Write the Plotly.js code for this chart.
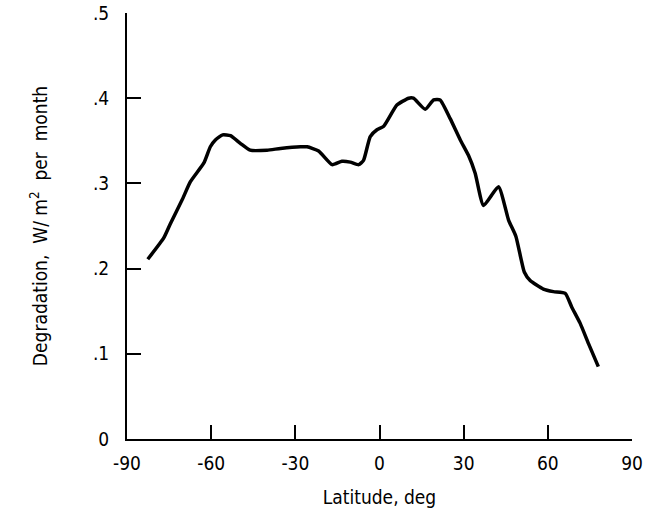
<!DOCTYPE html>
<html>
<head>
<meta charset="utf-8">
<script src="https://cdn.plot.ly/plotly-3.0.1.min.js"></script>
<style>html,body{margin:0;padding:0;background:#fff;}#chart{width:654px;height:520px;}</style>
</head>
<body>
<div id="chart"></div>
<script>
const latitude = [-82.6, -76.9, -74.5, -70.3, -67.4, -62.6, -60.3, -58.5, -55.9, -53.1, -49.6, -46.1, -40.1, -35.3, -28.2, -25.8, -21.7, -16.9, -13.4, -10.4, -7.4, -5.7, -3.3, -0.9, 1.5, 6.2, 10.4, 12.1, 16.3, 19.3, 21.6, 25.2, 28.8, 31.7, 34.1, 37.1, 42.4, 46.0, 48.6, 50.4, 51.6, 53.7, 58.4, 62.0, 66.2, 68.5, 71.5, 74.5, 78.0];
const degradation = [0.211, 0.236, 0.253, 0.281, 0.302, 0.324, 0.343, 0.351, 0.357, 0.356, 0.347, 0.339, 0.339, 0.341, 0.343, 0.343, 0.338, 0.322, 0.326, 0.325, 0.322, 0.327, 0.355, 0.363, 0.367, 0.392, 0.400, 0.400, 0.387, 0.398, 0.398, 0.376, 0.351, 0.333, 0.312, 0.274, 0.296, 0.257, 0.238, 0.212, 0.196, 0.186, 0.176, 0.173, 0.171, 0.155, 0.136, 0.112, 0.085];

const xTickVals = [-90, -60, -30, 0, 30, 60, 90];
const xTickText = ["-90", "-60", "-30", "0", "30", "60", "90"];
const yTickVals = [0, 0.1, 0.2, 0.3, 0.4, 0.5];
const yTickText = ["0", ".1", ".2", ".3", ".4", ".5"];

const fontFam = "Liberation Sans Narrow, DejaVu Sans Condensed, Arial Narrow, sans-serif";

const trace = {
  x: latitude, y: degradation, type: 'scatter', mode: 'lines',
  line: {color: '#000', width: 3.5, shape: 'spline', smoothing: 0.5},
  hoverinfo: 'skip'
};

const layout = {
  width: 654, height: 520,
  margin: {l: 126.5, r: 22, t: 13, b: 81},
  paper_bgcolor: '#fff', plot_bgcolor: '#fff',
  showlegend: false,
  font: {family: fontFam, color: '#000', size: 19},
  xaxis: {
    range: [-90, 90], tickmode: 'array', tickvals: xTickVals, ticktext: xTickText,
    ticks: 'inside', ticklen: 14, tickwidth: 2, tickcolor: '#000',
    showline: true, linecolor: '#000', linewidth: 2, showgrid: false, zeroline: false,
    ticklabelstandoff: 6,
    tickfont: {family: fontFam, size: 19, color: '#000'},
    title: {text: 'Latitude, deg', font: {family: fontFam, size: 19, color: '#000'}, standoff: 18},
    automargin: false, fixedrange: true
  },
  yaxis: {
    range: [0, 0.5], tickmode: 'array', tickvals: yTickVals, ticktext: yTickText,
    ticks: 'inside', ticklen: 14, tickwidth: 2, tickcolor: '#000',
    showline: true, linecolor: '#000', linewidth: 2, showgrid: false, zeroline: false,
    ticklabelstandoff: 12,
    tickfont: {family: fontFam, size: 19, color: '#000'},
    title: {text: 'Degradation,  W/ m<sup>2</sup>  per  month', font: {family: fontFam, size: 19, color: '#000'}, standoff: 40},
    automargin: false, fixedrange: true
  }
};

Plotly.newPlot('chart', [trace], layout, {staticPlot: true, displayModeBar: false});
</script>
</body>
</html>
